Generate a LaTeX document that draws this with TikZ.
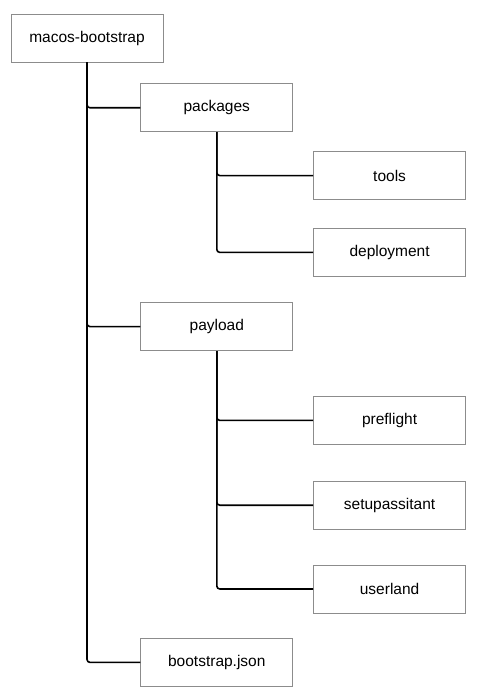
\documentclass[tikz,border=0pt]{standalone}
\usepackage{fontspec}
\setmainfont{Liberation Sans}
\usetikzlibrary{positioning}

\begin{document}
\begin{tikzpicture}[x=1pt,y=1pt,
    dirbox/.style={rectangle,draw=black!45,line width=0.8pt,minimum width=152pt,minimum height=48pt,inner sep=0pt,font=\fontsize{15.5}{18}\selectfont},
    branch/.style={line width=1.6pt,rounded corners=3pt}]
      \useasboundingbox (0,0) rectangle (481,-700);
      % root
      \node[dirbox] (root) at (87,-38) {macos-bootstrap};
      % packages
      \node[dirbox,below right=21pt and -23pt of root] (packages) {packages};
      \node[dirbox,below right=19pt and 20pt of packages] (tools) {tools};
      \node[dirbox,below=28pt of tools] (deployment) {deployment};
      % payload
      \node[dirbox,below=170pt of packages] (payload) {payload};
      \node[dirbox,below right=45pt and 20pt of payload] (preflight) {preflight};
      \node[dirbox,below=36pt of preflight] (setup) {setupassitant};
      \node[dirbox,below=35pt of setup] (userland) {userland};
      % config
      \node[dirbox,below=287pt of payload] (config) {bootstrap.json};
      % branches..
      \draw[branch] (root.south) |- (packages.west);
      \draw[branch] (root.south) |- (payload.west);
      \draw[branch] (root.south) |- (config.west);
      \draw[branch] (packages.south) |- (tools.west);
      \draw[branch] (packages.south) |- (deployment.west);
      \draw[branch] (payload.south) |- (preflight.west);
      \draw[branch] (payload.south) |- (setup.west);
      \draw[branch] (payload.south) |- (userland.west);
    \end{tikzpicture}
\end{document}
